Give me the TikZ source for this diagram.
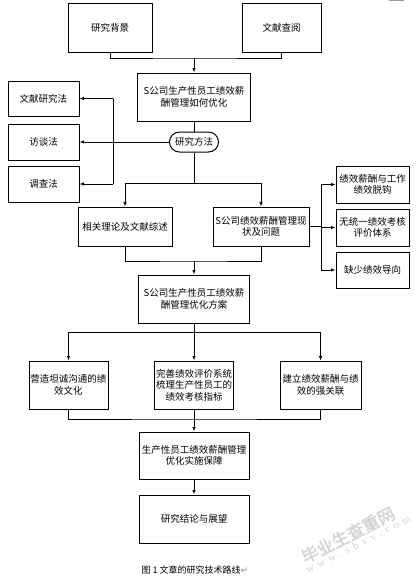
\documentclass[tikz,border=0pt]{standalone}
\usepackage{fontspec}
\setmainfont{Noto Sans CJK SC}
\newfontfamily\dejavu{DejaVu Sans}
\newfontfamily\wmserif[LetterSpace=40]{Liberation Serif}
\newfontfamily\wmcjk[FakeBold=2]{Noto Sans CJK SC}
\usetikzlibrary{arrows.meta}
\begin{document}
\begin{tikzpicture}[x=1pt,y=-1pt,
  box/.style={draw, line width=1pt, align=center, inner sep=1pt, font=\fontsize{9.5}{11.5}\selectfont},
  ln/.style={line width=0.8pt},
  arr/.style={ln, -{Latex[length=4.5pt,width=3.5pt]}}]
\useasboundingbox (0,0) rectangle (418,581);
\fill[white] (0,0) rectangle (418,581);
% top
\node[box, minimum width=84pt, minimum height=49pt] (bg) at (110,27.5) {研究背景};
\node[box, minimum width=79pt, minimum height=49pt] (cy) at (281.5,27.5) {文献查阅};
\node[box, minimum width=113pt, minimum height=48pt] (q) at (194,97) {S公司生产性员工绩效薪\\酬管理如何优化};
\node[box, rounded corners=10pt, minimum width=49pt, minimum height=20pt] (m) at (194,142) {研究方法};
% left methods
\node[box, minimum width=71pt, minimum height=35pt] (l1) at (43.5,98.5) {文献研究法};
\node[box, minimum width=71pt, minimum height=36pt] (l2) at (43.5,142) {访谈法};
\node[box, minimum width=71pt, minimum height=36pt] (l3) at (43.5,184) {调查法};
% second level
\node[box, minimum width=94pt, minimum height=39pt] (a) at (125,226.5) {相关理论及文献综述};
\node[box, minimum width=96pt, minimum height=39pt] (b) at (261,226.5) {S公司绩效薪酬管理现\\状及问题};
% right problems
\node[box, minimum width=73pt, minimum height=37pt] (r1) at (372.5,184.5) {绩效薪酬与工作\\绩效脱钩};
\node[box, minimum width=73pt, minimum height=37pt] (r2) at (372.5,227.5) {无统一绩效考核\\评价体系};
\node[box, minimum width=73pt, minimum height=36pt] (r3) at (372.5,270) {缺少绩效导向};
% plan
\node[box, minimum width=111pt, minimum height=48pt] (p) at (194,299) {S公司生产性员工绩效薪\\酬管理优化方案};
\node[box, minimum width=79pt, minimum height=48pt] (c1) at (68.5,385) {营造坦诚沟通的绩\\效文化};
\node[box, minimum width=79pt, minimum height=48pt] (c2) at (194,385) {完善绩效评价系统\\梳理生产性员工的\\绩效考核指标};
\node[box, minimum width=81pt, minimum height=48pt] (c3) at (320.5,385) {建立绩效薪酬与绩\\效的强关联};
\node[box, minimum width=110pt, minimum height=47pt] (s) at (194,455.5) {生产性员工绩效薪酬管理\\优化实施保障};
\node[box, minimum width=110pt, minimum height=48pt] (t) at (194,519) {研究结论与展望};
% connectors
\coordinate (j1) at (194,58);
\draw[ln] (bg.south) |- (j1) -| (cy.south);
\draw[arr] (j1) -- (q.north);
\draw[ln] (q.south) -- (m.north);
\coordinate (vl) at (113,0);
\draw[arr] (m.west) -- (l2.east);
\draw[ln] (vl |- l1.east) -- (vl |- l3.east);
\draw[arr] (vl |- l1.east) -- (l1.east);
\draw[arr] (vl |- l3.east) -- (l3.east);
\coordinate (j2) at (194,183);
\draw[ln] (m.south) -- (j2);
\draw[arr] (j2) -| (a.north);
\draw[arr] (j2) -| (b.north);
\coordinate (vr) at (321,0);
\draw[ln] (b.east) -- (vr |- b.east);
\draw[ln] (vr |- r1.west) -- (vr |- r3.west);
\draw[arr] (vr |- r1.west) -- (r1.west);
\draw[arr] (vr |- r2.west) -- (r2.west);
\draw[arr] (vr |- r3.west) -- (r3.west);
\coordinate (j3) at (194,261);
\draw[ln] (a.south) |- (j3) -| (b.south);
\draw[arr] (j3) -- (p.north);
\coordinate (j4) at (194,332);
\draw[ln] (p.south) -- (j4);
\draw[arr] (j4) -| (c1.north);
\draw[arr] (j4) -| (c3.north);
\draw[arr] (j4) -- (c2.north);
\coordinate (j5) at (194,419);
\draw[ln] (c1.south) |- (j5) -| (c3.south);
\draw[arr] (c2.south) -- (s.north);
\draw[arr] (s.south) -- (t.north);
% caption
\node[font=\fontsize{9}{10}\selectfont, inner sep=0pt] (cap) at (195,570) {图 1 文章的研究技术路线{\dejavu\color{black!45}↵}};
% watermark
\node[rotate=27, text=black!17, align=center, inner sep=0pt] (wm) at (350,539)
  {{\wmcjk\fontsize{17}{17}\selectfont 毕业生查重网}\\[-2pt]{\wmserif\fontsize{11}{11}\selectfont\hspace*{10pt}www.sbvv.com}};
% top-right artifact
\draw[black!40, line width=1.2pt] (389,0.6) -- (404,0.6);
\end{tikzpicture}
\end{document}
